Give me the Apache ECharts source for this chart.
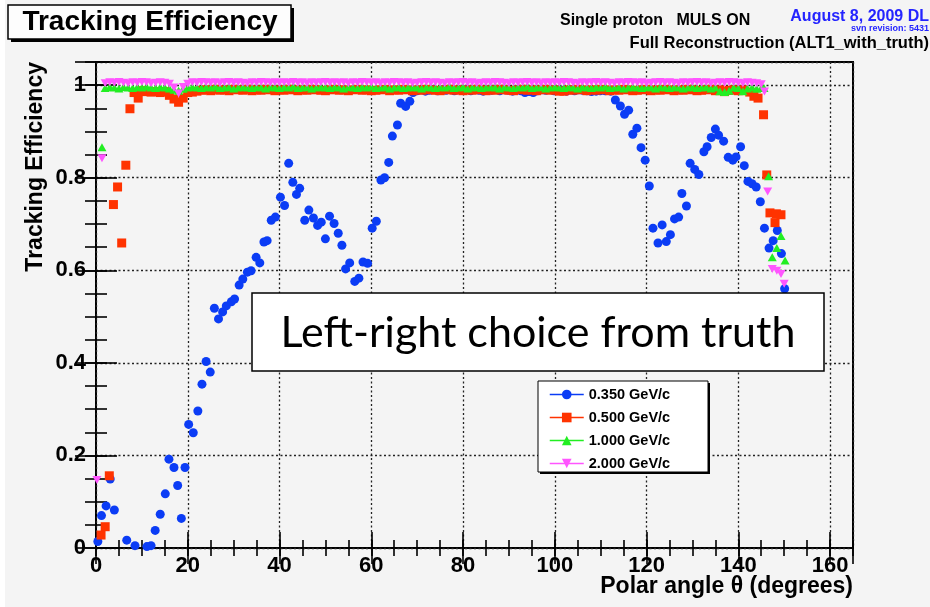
<!DOCTYPE html>
<html>
<head>
<meta charset="utf-8">
<title>Tracking Efficiency</title>
<script src="https://cdn.jsdelivr.net/npm/echarts@6.0.0/dist/echarts.min.js"></script>
<style>
  html, body { margin: 0; padding: 0; background: #fff; }
  #chart { width: 930px; height: 607px; }
</style>
</head>
<body>
<div id="chart"></div>
<script>
// momentum labels, in legend order
var seriesNames = ['0.350 GeV/c', '0.500 GeV/c', '1.000 GeV/c', '2.000 GeV/c'];

// axis ticks
var thetaTicks = [0, 20, 40, 60, 80, 100, 120, 140, 160];
var effTicks = [0, 0.2, 0.4, 0.6, 0.8, 1];

// 0.350 GeV/c, read point by point  [theta, efficiency]
var eff350 = [
  [0.4,0.014],[1.2,0.070],[2.2,0.091],[3.1,0.149],[4.0,0.082],[6.7,0.017],[8.5,0.005],
  [11.1,0.003],[12.0,0.005],[12.9,0.038],[14.0,0.073],[15.1,0.117],[15.9,0.192],[17.0,0.174],
  [17.8,0.135],[18.6,0.064],[19.4,0.174],[20.2,0.267],[21.2,0.249],[22.2,0.296],[23.1,0.354],
  [24.0,0.403],[24.9,0.380],[25.8,0.518],[26.7,0.495],[27.6,0.510],[28.4,0.523],[29.5,0.532],
  [30.2,0.538],[31.2,0.568],[32.0,0.581],[33.0,0.596],[33.8,0.599],[34.9,0.628],[35.7,0.616],
  [36.6,0.661],[37.3,0.664],[38.2,0.708],[39.1,0.715],[40.2,0.758],[41.1,0.740],[42.0,0.831],
  [42.9,0.790],[43.7,0.764],[44.4,0.777],[45.5,0.708],[46.4,0.730],[47.4,0.713],[48.3,0.697],
  [49.1,0.704],[50.0,0.668],[50.9,0.717],[51.9,0.701],[52.8,0.680],[53.6,0.654],[54.4,0.603],
  [55.3,0.616],[56.4,0.576],[57.3,0.583],[58.2,0.618],[59.2,0.615],[60.2,0.691],[61.1,0.706],
  [62.1,0.795],[62.9,0.800],[63.8,0.833],[64.6,0.890],[65.7,0.914],[66.4,0.961],[67.5,0.954],
  [68.4,0.965],[69.1,0.984],[70.0,0.988],[70.9,0.990],[71.8,0.987],[72.7,0.989],[73.6,0.991],
  [74.5,0.988],[75.4,0.990],[76.3,0.989],[77.2,0.991],[78.1,0.988],[79.0,0.990],[79.9,0.989],
  [80.8,0.991],[81.7,0.988],[82.6,0.990],[83.5,0.989],[84.4,0.987],[85.3,0.990],[86.2,0.989],
  [87.1,0.991],[88.0,0.988],[89.0,0.990],[89.9,0.989],[90.8,0.987],[91.7,0.990],[92.6,0.988],
  [93.5,0.984],[94.4,0.986],[95.3,0.984],[96.2,0.988],[97.1,0.990],[98.0,0.989],[98.9,0.991],
  [99.8,0.988],[100.7,0.990],[101.6,0.989],[102.5,0.987],[103.4,0.990],[104.3,0.988],[105.2,0.990],
  [106.1,0.989],[107.0,0.988],[108.0,0.986],[109.0,0.987],[109.9,0.988],[111.0,0.988],[112.2,0.987],
  [113.2,0.968],[114.3,0.955],[115.2,0.937],[116.1,0.946],[117.0,0.894],[117.9,0.907],[118.8,0.865],
  [119.7,0.838],[120.6,0.782],[121.4,0.691],[122.5,0.659],[123.4,0.698],[124.3,0.662],[125.2,0.677],
  [126.1,0.711],[127.0,0.715],[127.7,0.766],[128.7,0.739],[129.5,0.831],[130.5,0.818],[131.4,0.807],
  [132.5,0.856],[133.2,0.867],[134.1,0.887],[135.0,0.905],[135.7,0.892],[136.8,0.879],[137.8,0.844],
  [138.8,0.838],[139.5,0.845],[140.5,0.867],[141.3,0.826],[142.1,0.792],[143.0,0.787],[143.9,0.780],
  [144.8,0.748],[145.7,0.691],[146.7,0.648],[147.6,0.664],[148.5,0.686],[149.4,0.636],[150.1,0.560]
];

// the three higher momenta sit on a plateau near 1; one value per degree
var plateauTheta = [
  2,3,4,5,6,7,8,9,10,11, 12,13,14,15,16,17,18,19,20,21, 22,23,24,25,26,27,28,29,30,31,
  32,33,34,35,36,37,38,39,40,41, 42,43,44,45,46,47,48,49,50,51, 52,53,54,55,56,57,58,59,60,61,
  62,63,64,65,66,67,68,69,70,71, 72,73,74,75,76,77,78,79,80,81, 82,83,84,85,86,87,88,89,90,91,
  92,93,94,95,96,97,98,99,100,101, 102,103,104,105,106,107,108,109,110,111,
  112,113,114,115,116,117,118,119,120,121, 122,123,124,125,126,127,128,129,130,131,
  132,133,134,135,136,137,138,139,140,141, 142,143,144,145
];
var plateau500 = [
  null,null,null,null,null,null,null,null,0.988,0.986,
  0.985,0.986,0.984,0.986,0.978,0.970,0.963,0.972,0.984,0.985,
  0.987,0.989,0.990,0.988,0.991,0.989,0.990,0.988,0.991,0.990,
  0.989,0.991,0.988,0.990,0.989,0.991,0.990,0.988,0.990,0.989,
  0.991,0.990,0.988,0.990,0.989,0.991,0.990,0.989,0.988,0.990,
  0.991,0.989,0.990,0.988,0.990,0.991,0.989,0.990,0.988,0.989,
  0.990,0.991,0.988,0.990,0.989,0.991,0.990,0.988,0.990,0.989,
  0.991,0.990,0.989,0.988,0.990,0.991,0.989,0.990,0.988,0.990,
  0.989,0.991,0.990,0.988,0.990,0.989,0.991,0.990,0.989,0.988,
  0.990,0.991,0.989,0.990,0.988,0.990,0.991,0.989,0.990,0.987,
  0.987,0.990,0.989,0.991,0.990,0.988,0.990,0.989,0.991,0.990,
  0.988,0.990,0.989,0.991,0.990,0.988,0.989,0.990,0.991,0.988,
  0.990,0.989,0.991,0.990,0.988,0.990,0.989,0.991,0.990,0.988,
  0.989,0.990,0.991,0.988,0.990,0.986,0.989,0.990,0.988,0.990,
  null,null,null,null
];
var plateau1000 = [
  0.994,0.996,0.995,0.993,0.996,0.995,0.994,0.996,0.995,0.997,
  0.995,0.994,0.996,0.995,0.993,0.990,0.988,0.992,0.995,0.996,
  0.995,0.994,0.996,0.995,0.997,0.994,0.995,0.996,0.993,0.995,
  0.996,0.995,0.994,0.996,0.995,0.993,0.996,0.995,0.994,0.996,
  0.995,0.997,0.994,0.995,0.996,0.993,0.995,0.996,0.995,0.994,
  0.996,0.995,0.993,0.996,0.995,0.994,0.996,0.995,0.997,0.994,
  0.995,0.996,0.993,0.995,0.996,0.994,0.995,0.996,0.995,0.993,
  0.996,0.995,0.994,0.996,0.995,0.997,0.994,0.995,0.996,0.993,
  0.995,0.996,0.994,0.995,0.996,0.995,0.993,0.996,0.995,0.994,
  0.996,0.995,0.997,0.994,0.995,0.996,0.993,0.995,0.996,0.995,
  0.994,0.996,0.995,0.993,0.996,0.995,0.994,0.996,0.995,0.997,
  0.994,0.995,0.996,0.993,0.995,0.996,0.995,0.994,0.996,0.995,
  0.993,0.996,0.995,0.994,0.996,0.995,0.993,0.995,0.996,0.994,
  0.995,0.996,0.993,0.995,0.987,0.985,0.988,0.995,0.994,0.987,
  0.993,0.995,0.992,0.994
];
var plateau2000 = [
  1.004,1.006,1.005,1.007,1.005,1.004,1.006,1.005,1.007,1.006,
  1.004,1.005,1.006,1.005,1.003,0.995,0.982,0.996,1.003,1.006,
  1.005,1.007,1.006,1.005,1.006,1.004,1.006,1.007,1.005,1.006,
  1.005,1.004,1.006,1.005,1.007,1.006,1.005,1.006,1.005,1.006,
  1.005,1.007,1.005,1.006,1.004,1.006,1.005,1.006,1.007,1.005,
  1.006,1.005,1.006,1.004,1.006,1.005,1.007,1.006,1.005,1.006,
  1.004,1.006,1.005,1.007,1.006,1.005,1.006,1.004,1.005,1.006,
  1.007,1.005,1.006,1.005,1.004,1.006,1.005,1.006,1.007,1.005,
  1.006,1.004,1.005,1.006,1.005,1.007,1.006,1.005,1.004,1.006,
  1.005,1.006,1.007,1.005,1.006,1.004,1.006,1.005,1.006,1.005,
  1.007,1.006,1.005,1.004,1.006,1.005,1.006,1.007,1.005,1.006,
  1.005,1.004,1.006,1.005,1.007,1.006,1.005,1.006,1.004,1.005,
  1.006,1.007,1.005,1.006,1.005,1.004,1.006,1.005,1.006,1.007,
  1.005,1.006,1.004,1.005,1.006,1.005,1.007,1.006,1.005,1.004,
  1.006,1.005,1.004,1.002
];

// off-plateau points at the edges
var tail500 = [
  [1.1,0.028],[2.0,0.046],[2.9,0.156],[3.8,0.742],[4.7,0.780],[5.6,0.659],[6.5,0.827],
  [7.4,0.949],[8.3,0.984],[9.2,0.972],[142.5,0.985],[143.4,0.976],[144.3,0.972],[145.5,0.936],
  [146.2,0.806],[146.9,0.724],[148.0,0.703],[148.3,0.722],[149.3,0.720]
];
var tail1000 = [
  [1.3,0.866],[145.6,0.994],[146.6,0.803],[147.4,0.628],[148.4,0.648],[149.3,0.674],[150.2,0.621]
];
var tail2000 = [
  [0.2,0.147],[1.3,0.842],[145.7,0.986],[146.4,0.770],[147.4,0.603],[148.4,0.599],[149.3,0.592],[150.0,0.571]
];

function withPlateau(values, tail) {
  var pts = [];
  for (var i = 0; i < plateauTheta.length; i++) {
    if (values[i] != null) pts.push([plateauTheta[i], values[i]]);
  }
  return tail.concat(pts);
}

var rootFont = '"Liberation Sans", Arial, Helvetica, sans-serif';
var gridLine = { show: true, lineStyle: { color: '#222', width: 1.3, type: [2, 2.5] } };

function xAx(pos, interval, len, labels) {
  return {
    type: 'value', position: pos, min: 0, max: 165, interval: interval,
    axisLine: { show: false },
    axisTick: { show: true, inside: true, length: len, lineStyle: { color: '#000', width: 1.6 } },
    axisLabel: labels ? {
      show: true, color: '#000', fontSize: 22, fontWeight: 'bold', fontFamily: rootFont,
      margin: 7, showMaxLabel: false,
      formatter: function (v) { return thetaTicks.indexOf(v) >= 0 ? String(v) : ''; }
    } : { show: false },
    splitLine: labels ? gridLine : { show: false }
  };
}
function yAx(pos, interval, len, labels) {
  return {
    type: 'value', position: pos, min: 0, max: 1.05, interval: interval,
    axisLine: { show: false },
    axisTick: { show: true, inside: true, length: len, lineStyle: { color: '#000', width: 1.6 } },
    axisLabel: labels ? {
      show: true, color: '#000', fontSize: 22, fontWeight: 'bold', fontFamily: rootFont,
      margin: 10, showMaxLabel: false,
      formatter: function (v) {
        var r = Math.round(v * 10) / 10;
        return effTicks.indexOf(r) >= 0 && Math.abs(r - v) < 1e-6 ? String(r) : '';
      }
    } : { show: false },
    splitLine: labels ? gridLine : { show: false }
  };
}

function markSeries(name, data, symbol, size, color, rotate, z) {
  return {
    name: name, type: 'line', data: data, z: z,
    symbol: symbol, symbolSize: size, symbolRotate: rotate, showAllSymbol: true,
    lineStyle: { opacity: 0, color: color },
    itemStyle: { color: color, borderWidth: 0 },
    emphasis: { disabled: true },
    silent: true, animation: false
  };
}

var chart = echarts.init(document.getElementById('chart'));
chart.setOption({
  backgroundColor: '#f4f4f4',
  animation: false,
  grid: {
    left: 96, right: 77, top: 62, bottom: 59,
    show: true, borderColor: '#000', borderWidth: 2, backgroundColor: 'transparent',
    outerBoundsMode: 'none'
  },
  xAxis: [xAx('bottom', 20, 16, true), xAx('bottom', 5, 8, false), xAx('top', 20, 16, false), xAx('top', 5, 8, false)],
  yAxis: [yAx('left', 0.2, 21, true), yAx('left', 0.05, 11, false), yAx('right', 0.2, 21, false), yAx('right', 0.05, 11, false)],
  legend: {
    orient: 'vertical', left: 544, top: 382, z: 8,
    itemWidth: 34, itemHeight: 12, itemGap: 8,
    data: seriesNames,
    lineStyle: { width: 1.5, opacity: 1 },
    textStyle: { color: '#000', fontSize: 14.5, fontWeight: 'bold', fontFamily: rootFont, lineHeight: 12 },
    selectedMode: false
  },
  series: [
    markSeries(seriesNames[0], eff350, 'circle', 9, '#0b3cf5', 0, 2),
    markSeries(seriesNames[1], withPlateau(plateau500, tail500), 'rect', 9, '#ff3300', 0, 3),
    markSeries(seriesNames[2], withPlateau(plateau1000, tail1000), 'triangle', [9, 8], '#22ee22', 0, 4),
    markSeries(seriesNames[3], withPlateau(plateau2000, tail2000), 'triangle', [9, 8], '#ff55ff', 180, 5)
  ],
  graphic: [
    { type: 'rect', x: 0, y: 0, z: 1, shape: { width: 5, height: 607 }, style: { fill: '#ffffff' }, silent: true },
    // ROOT title pave with its shadow
    { type: 'rect', x: 11, y: 8, z: 10, shape: { width: 283, height: 34 }, style: { fill: '#000' } },
    { type: 'rect', x: 8, y: 5, z: 11, shape: { width: 283, height: 34 }, style: { fill: '#fdfdfd', stroke: '#000', lineWidth: 1.5 } },
    { type: 'text', x: 150, y: 22, z: 12, style: { text: 'Tracking Efficiency', font: 'bold 28px ' + rootFont, fill: '#000', align: 'center', verticalAlign: 'middle' } },
    { type: 'text', x: 560, y: 21, z: 12, style: { text: 'Single proton   MULS ON', font: 'bold 16px ' + rootFont, fill: '#000', align: 'left', verticalAlign: 'middle' } },
    { type: 'text', x: 929, y: 17, z: 12, style: { text: 'August 8, 2009 DL', font: 'bold 16px ' + rootFont, fill: '#2424ff', align: 'right', verticalAlign: 'middle' } },
    { type: 'text', x: 929, y: 29, z: 12, style: { text: 'svn revision: 5431', font: 'bold 9px ' + rootFont, fill: '#2424ff', align: 'right', verticalAlign: 'middle' } },
    { type: 'text', x: 929, y: 43, z: 12, style: { text: 'Full Reconstruction (ALT1_with_truth)', font: 'bold 16.5px ' + rootFont, fill: '#000', align: 'right', verticalAlign: 'middle' } },
    // axis titles
    { type: 'text', x: 36, y: 62, z: 12, rotation: Math.PI / 2, style: { text: 'Tracking Efficiency', font: 'bold 23px ' + rootFont, fill: '#000', align: 'right', verticalAlign: 'middle' } },
    { type: 'text', x: 853, y: 587, z: 12, style: { text: 'Polar angle \u03b8 (degrees)', font: 'bold 23px ' + rootFont, fill: '#000', align: 'right', verticalAlign: 'middle' } },
    // legend frame
    { type: 'rect', x: 540, y: 383, z: 6, shape: { width: 170, height: 91 }, style: { fill: '#000' } },
    { type: 'rect', x: 538, y: 381, z: 7, shape: { width: 170, height: 91 }, style: { fill: '#ffffff', stroke: '#000', lineWidth: 1 } },
    // slide annotation
    { type: 'rect', x: 252, y: 293, z: 20, shape: { width: 572, height: 78 }, style: { fill: '#ffffff', stroke: '#000', lineWidth: 1.5 } },
    { type: 'text', x: 538, y: 333, z: 21, style: { text: 'Left-right choice from truth', font: '43px Lato, "Open Sans", sans-serif', fill: '#000', align: 'center', verticalAlign: 'middle' } }
  ]
});
</script>
</body>
</html>
